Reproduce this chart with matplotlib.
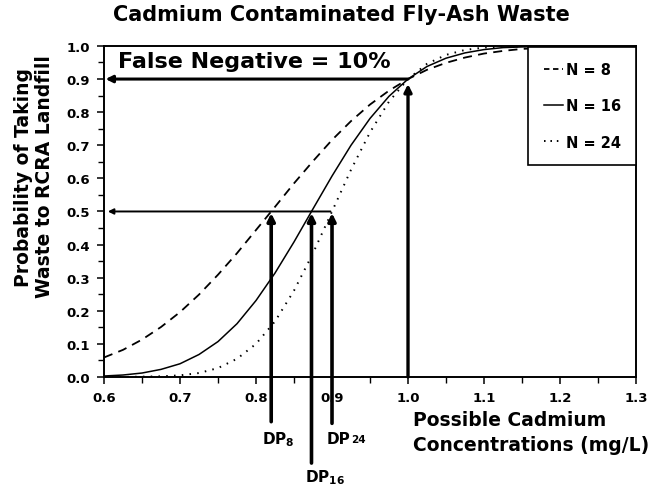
import numpy as np
import matplotlib
matplotlib.use('Agg')
import matplotlib.pyplot as plt
from matplotlib.lines import Line2D

conc = [0.600, 0.625, 0.650, 0.675, 0.700, 0.725, 0.750, 0.775, 0.800, 0.825,
        0.850, 0.875, 0.900, 0.925, 0.950, 0.975, 1.000, 1.025, 1.050, 1.075,
        1.100, 1.125, 1.150, 1.175, 1.200, 1.225, 1.250, 1.275, 1.300]

# probability of taking waste to RCRA landfill, per sample size N
prob_n8 = [0.059, 0.082, 0.113, 0.151, 0.196, 0.249, 0.309, 0.374, 0.444, 0.514,
           0.585, 0.652, 0.716, 0.773, 0.823, 0.865, 0.900, 0.928, 0.949, 0.965,
           0.977, 0.985, 0.991, 0.994, 0.997, 0.998, 0.999, 0.999, 1.000]
prob_n16 = [0.003, 0.006, 0.012, 0.023, 0.040, 0.068, 0.107, 0.161, 0.231, 0.314,
            0.408, 0.508, 0.607, 0.700, 0.781, 0.848, 0.900, 0.938, 0.963, 0.979,
            0.989, 0.995, 0.997, 0.999, 1.000, 1.000, 1.000, 1.000, 1.000]
prob_n24 = [0.000, 0.000, 0.001, 0.002, 0.005, 0.012, 0.027, 0.055, 0.100, 0.168,
            0.261, 0.374, 0.500, 0.626, 0.739, 0.832, 0.900, 0.946, 0.973, 0.988,
            0.995, 0.998, 0.999, 1.000, 1.000, 1.000, 1.000, 1.000, 1.000]

legend_labels = ['N = 8', 'N = 16', 'N = 24']

# decision points where each curve crosses 0.5, and the 10% false negative level
dp_conc = [0.820, 0.873, 0.900]
dp_names = ['8', '16', '24']
dp_low = [-0.135, -0.26, -0.14]
half_level = 0.5
fn_level = 0.9
fn_conc = 1.0

xticks = [0.6, 0.7, 0.8, 0.9, 1.0, 1.1, 1.2, 1.3]
yticks = [0.0, 0.1, 0.2, 0.3, 0.4, 0.5, 0.6, 0.7, 0.8, 0.9, 1.0]

plt.rcParams['font.family'] = ['DejaVu Sans']
plt.rcParams['font.weight'] = 'bold'

fig = plt.figure(figsize=(6.55, 4.89), dpi=100)
ax = fig.add_axes([0.1588, 0.227, 0.8122, 0.677])

ax.plot(conc, prob_n8, color='black', lw=1.3, ls=(0, (5, 3.5)))
ax.plot(conc, prob_n16, color='black', lw=1.1, ls='-')
ax.plot(conc, prob_n24, color='black', lw=1.4, ls=(0, (0.8, 3.2)))

ax.set_xlim(0.6, 1.3)
ax.set_ylim(0.0, 1.0)
ax.set_xticks(xticks)
ax.set_xticklabels([f'{v:.1f}' for v in xticks])
ax.set_yticks(yticks)
ax.set_yticklabels([f'{v:.1f}' for v in yticks])
ax.set_xticks(np.arange(0.65, 1.3, 0.1), minor=True)
ax.set_yticks(np.arange(0.05, 1.0, 0.1), minor=True)
ax.tick_params(which='major', direction='out', length=5, width=1.1, labelsize=9.5, pad=5)
ax.tick_params(which='minor', direction='out', length=4, width=1.0)
for lab in ax.get_xticklabels() + ax.get_yticklabels():
    lab.set_fontweight('bold')
for sp in ax.spines.values():
    sp.set_linewidth(1.4)

# arrows: 10% false negative level
ax.annotate('', xy=(fn_conc, fn_level - 0.015), xytext=(fn_conc, 0.0),
            arrowprops=dict(arrowstyle='-|>', lw=2.4, color='black',
                            mutation_scale=11, shrinkA=0, shrinkB=0))
ax.annotate('', xy=(0.602, fn_level), xytext=(fn_conc, fn_level),
            arrowprops=dict(arrowstyle='-|>', lw=2.2, color='black',
                            mutation_scale=10, shrinkA=0, shrinkB=0))
ax.annotate('', xy=(0.605, half_level), xytext=(dp_conc[-1] - 0.002, half_level),
            arrowprops=dict(arrowstyle='-|>', lw=1.4, color='black',
                            mutation_scale=8, shrinkA=0, shrinkB=0))

# decision point arrows
for x, low in zip(dp_conc, dp_low):
    ax.annotate('', xy=(x, half_level - 0.005), xytext=(x, low),
                xycoords='data', annotation_clip=False,
                arrowprops=dict(arrowstyle='-|>', lw=2.6, color='black',
                                mutation_scale=11, shrinkA=0, shrinkB=0))

ax.text(0.808, -0.187, r'DP$_{\mathbf{8}}$', fontsize=11, fontweight='bold',
        ha='left', va='center', clip_on=False)
ax.text(0.864, -0.30, r'DP$_{\mathbf{16}}$', fontsize=11, fontweight='bold',
        ha='left', va='center', clip_on=False)
ax.text(0.893, -0.187, 'DP', fontsize=11, fontweight='bold',
        ha='left', va='center', clip_on=False)
ax.text(0.925, -0.187, dp_names[2], fontsize=7.5, fontweight='bold',
        ha='left', va='center', clip_on=False)

ax.text(0.618, 0.955, 'False Negative = 10%', fontsize=16, fontweight='bold',
        ha='left', va='center')

ax.text(1.006, -0.10, 'Possible Cadmium\nConcentrations (mg/L)', fontsize=13.5,
        fontweight='bold', ha='left', va='top', linespacing=1.4, clip_on=False)

fig.text(0.052, 0.638, 'Probability of Taking\nWaste to RCRA Landfill', rotation=90,
         fontsize=13.5, fontweight='bold', ha='center', va='center', linespacing=1.1)

fig.text(0.521, 0.969, 'Cadmium Contaminated Fly-Ash Waste', fontsize=15,
         fontweight='bold', ha='center', va='center')

handles = [Line2D([], [], color='black', lw=1.3, ls=(0, (3, 2))),
           Line2D([], [], color='black', lw=1.1, ls='-'),
           Line2D([], [], color='black', lw=1.4, ls=(0, (0.8, 2.5)))]
leg = ax.legend(handles, legend_labels, loc='upper right', bbox_to_anchor=(1.0, 0.997),
                borderaxespad=0, fancybox=False, edgecolor='black', framealpha=1,
                fontsize=10.5, handlelength=1.3, handletextpad=0.2,
                labelspacing=1.45, borderpad=1.05)
leg.get_frame().set_linewidth(1.2)
for t in leg.get_texts():
    t.set_fontweight('bold')

fig.savefig('out.png', dpi=100)
